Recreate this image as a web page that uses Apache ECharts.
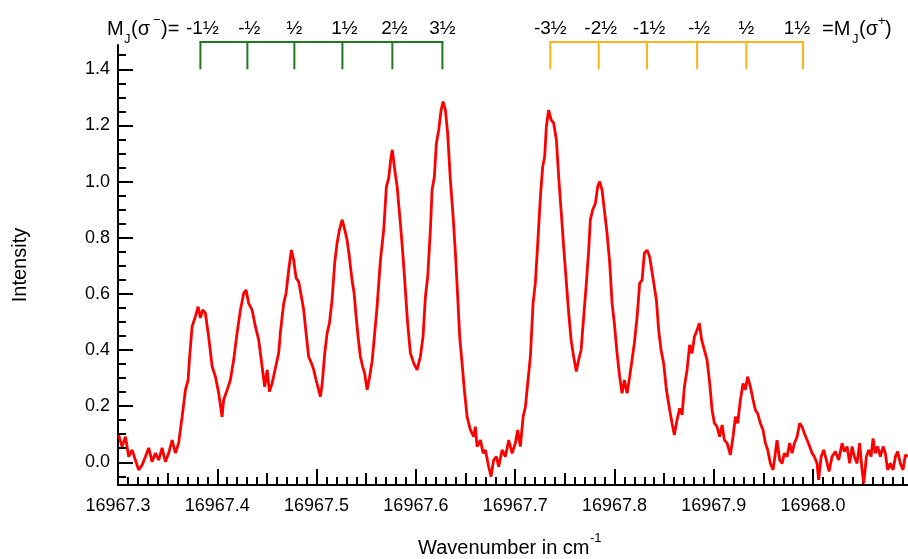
<!DOCTYPE html>
<html>
<head>
<meta charset="utf-8">
<script src="https://cdn.jsdelivr.net/npm/echarts@6/dist/echarts.min.js"></script>
<style>
  html, body { margin: 0; padding: 0; background: #fff; }
  #chart { width: 908px; height: 559px; }
</style>
</head>
<body>
<div id="chart"></div>
<script>
// Measured spectrum: [wavenumber (cm^-1), intensity]
const spectrum = [
  [16967.3007,0.097],[16967.3041,0.056],[16967.3075,0.091],[16967.3108,0.020],[16967.3142,0.044],
  [16967.3175,0.008],[16967.3208,-0.027],[16967.3243,-0.010],[16967.3276,0.020],[16967.3309,0.051],
  [16967.3343,0.002],[16967.3377,0.033],[16967.3410,0.008],[16967.3444,0.051],[16967.3477,0.002],
  [16967.3511,0.033],[16967.3545,0.079],[16967.3578,0.033],[16967.3611,0.069],[16967.3628,0.115],
  [16967.3646,0.162],[16967.3679,0.258],[16967.3706,0.293],[16967.3719,0.365],[16967.3746,0.483],
  [16967.3779,0.519],[16967.3807,0.554],[16967.3830,0.514],[16967.3853,0.543],[16967.3880,0.531],
  [16967.3913,0.447],[16967.3948,0.341],[16967.3981,0.305],[16967.4014,0.247],[16967.4048,0.162],
  [16967.4064,0.222],[16967.4099,0.258],[16967.4132,0.293],[16967.4165,0.365],[16967.4199,0.460],
  [16967.4233,0.543],[16967.4266,0.602],[16967.4290,0.614],[16967.4316,0.566],[16967.4350,0.543],
  [16967.4384,0.483],[16967.4417,0.436],[16967.4451,0.341],[16967.4477,0.269],[16967.4502,0.329],
  [16967.4525,0.252],[16967.4552,0.281],[16967.4585,0.335],[16967.4618,0.389],[16967.4635,0.460],
  [16967.4653,0.519],[16967.4669,0.566],[16967.4693,0.603],[16967.4719,0.685],[16967.4746,0.756],
  [16967.4769,0.721],[16967.4794,0.656],[16967.4820,0.643],[16967.4847,0.590],[16967.4870,0.543],
  [16967.4894,0.460],[16967.4920,0.376],[16967.4948,0.353],[16967.4971,0.329],[16967.4995,0.293],
  [16967.5021,0.258],[16967.5038,0.234],[16967.5055,0.275],[16967.5082,0.388],[16967.5106,0.460],
  [16967.5129,0.495],[16967.5156,0.578],[16967.5182,0.709],[16967.5206,0.780],[16967.5230,0.828],
  [16967.5257,0.864],[16967.5280,0.834],[16967.5307,0.792],[16967.5330,0.732],[16967.5357,0.649],
  [16967.5378,0.602],[16967.5398,0.519],[16967.5418,0.447],[16967.5441,0.376],[16967.5464,0.341],
  [16967.5484,0.317],[16967.5509,0.258],[16967.5532,0.300],[16967.5559,0.360],[16967.5575,0.420],
  [16967.5609,0.554],[16967.5643,0.720],[16967.5676,0.828],[16967.5703,0.982],[16967.5726,1.012],
  [16967.5750,1.089],[16967.5763,1.113],[16967.5783,1.053],[16967.5811,0.982],[16967.5844,0.851],
  [16967.5871,0.732],[16967.5894,0.614],[16967.5917,0.495],[16967.5945,0.388],[16967.5978,0.353],
  [16967.6012,0.329],[16967.6045,0.376],[16967.6072,0.447],[16967.6096,0.590],[16967.6119,0.661],
  [16967.6146,0.828],[16967.6163,0.970],[16967.6186,1.017],[16967.6206,1.136],[16967.6230,1.184],
  [16967.6254,1.255],[16967.6274,1.285],[16967.6297,1.255],[16967.6320,1.172],[16967.6347,1.006],
  [16967.6375,0.875],[16967.6398,0.745],[16967.6421,0.590],[16967.6441,0.447],[16967.6465,0.353],
  [16967.6488,0.258],[16967.6516,0.162],[16967.6549,0.115],[16967.6582,0.091],[16967.6599,0.127],
  [16967.6616,0.056],[16967.6650,0.079],[16967.6677,0.032],[16967.6700,0.044],[16967.6733,-0.016],
  [16967.6757,-0.051],[16967.6783,0.008],[16967.6811,0.020],[16967.6834,-0.016],[16967.6868,0.044],
  [16967.6901,0.020],[16967.6935,0.079],[16967.6969,0.032],[16967.7002,0.068],[16967.7025,0.115],
  [16967.7052,0.056],[16967.7080,0.162],[16967.7103,0.198],[16967.7126,0.281],[16967.7153,0.376],
  [16967.7180,0.566],[16967.7203,0.638],[16967.7227,0.780],[16967.7254,0.946],[16967.7277,1.053],
  [16967.7297,1.089],[16967.7314,1.196],[16967.7337,1.255],[16967.7362,1.220],[16967.7388,1.208],
  [16967.7415,1.148],[16967.7438,1.017],[16967.7462,0.899],[16967.7488,0.768],[16967.7516,0.638],
  [16967.7539,0.531],[16967.7563,0.436],[16967.7589,0.376],[16967.7616,0.323],[16967.7639,0.365],
  [16967.7664,0.400],[16967.7690,0.519],[16967.7717,0.638],[16967.7740,0.756],[16967.7757,0.864],
  [16967.7780,0.899],[16967.7808,0.923],[16967.7831,0.982],[16967.7851,1.000],[16967.7875,0.970],
  [16967.7898,0.899],[16967.7925,0.816],[16967.7952,0.709],[16967.7976,0.566],[16967.7999,0.495],
  [16967.8026,0.388],[16967.8052,0.305],[16967.8076,0.246],[16967.8100,0.293],[16967.8127,0.246],
  [16967.8153,0.305],[16967.8177,0.365],[16967.8200,0.424],[16967.8228,0.519],[16967.8254,0.638],
  [16967.8278,0.649],[16967.8301,0.745],[16967.8328,0.756],[16967.8354,0.732],[16967.8382,0.670],
  [16967.8422,0.578],[16967.8445,0.471],[16967.8469,0.400],[16967.8495,0.353],[16967.8523,0.258],
  [16967.8556,0.186],[16967.8580,0.139],[16967.8603,0.097],[16967.8630,0.151],[16967.8657,0.192],
  [16967.8681,0.169],[16967.8704,0.269],[16967.8731,0.329],[16967.8757,0.418],[16967.8781,0.388],
  [16967.8805,0.447],[16967.8832,0.471],[16967.8855,0.495],[16967.8878,0.436],[16967.8905,0.400],
  [16967.8932,0.365],[16967.8959,0.281],[16967.8983,0.186],[16967.9006,0.139],[16967.9033,0.127],
  [16967.9059,0.091],[16967.9084,0.133],[16967.9107,0.079],[16967.9134,0.068],[16967.9167,0.026],
  [16967.9194,0.091],[16967.9218,0.162],[16967.9241,0.139],[16967.9268,0.222],[16967.9295,0.281],
  [16967.9318,0.258],[16967.9341,0.305],[16967.9369,0.269],[16967.9396,0.222],[16967.9419,0.186],
  [16967.9442,0.174],[16967.9469,0.139],[16967.9496,0.115],[16967.9520,0.068],[16967.9543,0.044],
  [16967.9570,-0.004],[16967.9597,-0.027],[16967.9620,0.032],[16967.9637,0.079],[16967.9664,0.008],
  [16967.9688,-0.004],[16967.9711,0.032],[16967.9738,0.020],[16967.9764,0.068],[16967.9789,0.032],
  [16967.9812,0.068],[16967.9839,0.091],[16967.9865,0.139],[16967.9889,0.127],[16967.9912,0.103],
  [16967.9940,0.079],[16967.9966,0.056],[16967.9990,0.032],[16968.0013,0.020],[16968.0040,-0.004],
  [16968.0056,-0.063],[16968.0081,0.020],[16968.0107,0.044],[16968.0134,0.008],[16968.0161,-0.033],
  [16968.0191,0.020],[16968.0225,0.038],[16968.0258,0.008],[16968.0292,0.068],[16968.0315,0.038],
  [16968.0342,0.056],[16968.0369,-0.004],[16968.0393,0.056],[16968.0416,0.020],[16968.0443,-0.004],
  [16968.0469,0.068],[16968.0493,-0.027],[16968.0510,-0.075],[16968.0537,0.020],[16968.0560,0.044],
  [16968.0584,0.020],[16968.0604,0.085],[16968.0627,0.032],[16968.0651,0.056],[16968.0678,0.020],
  [16968.0705,0.056],[16968.0728,0.032],[16968.0751,-0.027],[16968.0778,-0.004],[16968.0806,-0.027],
  [16968.0829,0.020],[16968.0852,0.038],[16968.0879,-0.004],[16968.0906,-0.027],[16968.0929,0.026],
  [16968.0953,0.020]
];

// Zeeman component positions (cm^-1) and their M_J labels
const sigmaMinusPos = [16967.3830, 16967.4303, 16967.4776, 16967.5260, 16967.5763, 16967.6267];
const sigmaMinusLabels = ['-1½', '-½', '½', '1½', '2½', '3½'];
const sigmaPlusPos = [16967.7354, 16967.7841, 16967.8328, 16967.8832, 16967.9328, 16967.9899];
const sigmaPlusLabels = ['-3½', '-2½', '-1½', '-½', '½', '1½'];

// Axis tick labels
const xTickValues = [16967.3, 16967.4, 16967.5, 16967.6, 16967.7, 16967.8, 16967.9, 16968.0];
const yTickValues = [0.0, 0.2, 0.4, 0.6, 0.8, 1.0, 1.2, 1.4];

const X_MIN = 16967.3, X_MAX = 16968.0956;
const Y_MIN = -0.081, Y_MAX = 1.4865;
const FONT = '"Liberation Sans", Arial, Helvetica, sans-serif';

// Secondary tick positions: 0.05 / 0.01 on x, 0.05 on y
const xMid = [], xMinor = [];
for (let i = 0; i < 80; i++) {
  const v = +(16967.3 + i * 0.01).toFixed(2);
  if (i % 10 === 5) xMid.push(v);
  else if (i % 5 !== 0) xMinor.push(v);
}
const yMinor = [];
for (let k = -1; k <= 29; k++) {
  if (k % 4 !== 0) yMinor.push(+(k * 0.05).toFixed(2));
}

// Comb geometry (in intensity units)
const COMB_FOOT = 1.40, COMB_TOP = 1.497, COMB_LABEL = 1.544;

function tickAxis(kind, values, length, main) {
  return {
    type: 'value',
    min: kind === 'x' ? X_MIN : Y_MIN,
    max: kind === 'x' ? X_MAX : Y_MAX,
    position: kind === 'x' ? 'bottom' : 'left',
    offset: 0,
    splitLine: { show: false },
    axisLine: { show: main, onZero: false, lineStyle: { color: '#000', width: 2 } },
    axisTick: { show: true, inside: true, length: length, customValues: values,
                lineStyle: { color: '#000', width: 2 } },
    axisLabel: main ? {
      show: true, customValues: values,
      formatter: (v) => v.toFixed(1),
      color: '#000', fontSize: 18, fontFamily: FONT,
      margin: kind === 'x' ? 12 : 8
    } : { show: false, customValues: values }
  };
}

// Comb of component markers; labelNudge shifts individual labels sideways (px)
function combSeries(positions, labels, color, labelNudge) {
  return {
    type: 'custom',
    xAxisIndex: 0, yAxisIndex: 0,
    clip: false, silent: true, z: 5,
    data: positions.map((p, i) => [p, i]),
    renderItem(params, api) {
      const i = params.dataIndex;
      const x = api.value(0);
      const foot = api.coord([x, COMB_FOOT]);
      const top = api.coord([x, COMB_TOP]);
      const lab = api.coord([x, COMB_LABEL]);
      const nudge = (labelNudge && labelNudge[i]) || 0;
      const children = [
        { type: 'line', shape: { x1: foot[0], y1: foot[1], x2: top[0], y2: top[1] },
          style: { stroke: color, lineWidth: 2 } },
        { type: 'text', x: lab[0] + nudge, y: lab[1],
          style: { text: labels[i], fill: '#000', font: '19px ' + FONT,
                   align: 'center', verticalAlign: 'middle' } }
      ];
      if (i === 0) {
        const end = api.coord([positions[positions.length - 1], COMB_TOP]);
        children.push({ type: 'line',
          shape: { x1: top[0] - 1, y1: top[1], x2: end[0] + 1, y2: end[1] },
          style: { stroke: color, lineWidth: 2 } });
      }
      return { type: 'group', children };
    }
  };
}

function txt(x, y, text, size, align, rotation) {
  return {
    type: 'text', x: x, y: y, rotation: rotation || 0,
    style: { text: text, fill: '#000', font: size + 'px ' + FONT,
             align: align || 'left', verticalAlign: 'middle' }
  };
}

const chart = echarts.init(document.getElementById('chart'), null, { renderer: 'canvas' });
chart.setOption({
  animation: false,
  backgroundColor: '#fff',
  grid: { left: 118, right: 0, top: 45, bottom: 74, containLabel: false },
  xAxis: [
    tickAxis('x', xTickValues, 16, true),
    tickAxis('x', xMid, 12, false),
    tickAxis('x', xMinor, 8, false)
  ],
  yAxis: [
    tickAxis('y', yTickValues, 15, true),
    tickAxis('y', yMinor, 8, false)
  ],
  series: [
    {
      type: 'line',
      data: spectrum,
      xAxisIndex: 0, yAxisIndex: 0,
      showSymbol: false, symbol: 'none',
      lineStyle: { color: '#ff0000', width: 2.8 },
      clip: true, z: 3
    },
    combSeries(sigmaMinusPos, sigmaMinusLabels, '#1f7a1f', { 0: 2, 1: 2, 3: 2, 4: 2 }),
    combSeries(sigmaPlusPos, sigmaPlusLabels, '#ffb31a', { 1: 2, 2: 2, 3: 2, 5: -6 })
  ],
  graphic: [
    // M_J(σ−)= on the left
    txt(107, 29, 'M', 20), txt(124, 39, 'J', 13), txt(131, 29, '(σ', 20),
    txt(153, 20, '−', 13), txt(161, 29, ')=', 20),
    // =M_J(σ+) on the right
    txt(822, 29, '=M', 20), txt(852, 39, 'J', 13), txt(859, 29, '(σ', 20),
    txt(878, 21, '+', 13), txt(885, 29, ')', 20),
    // axis titles
    txt(418, 548, 'Wavenumber in cm', 20), txt(590, 538, '-1', 13),
    txt(20, 265, 'Intensity', 20, 'center', Math.PI / 2)
  ]
});
</script>
</body>
</html>
